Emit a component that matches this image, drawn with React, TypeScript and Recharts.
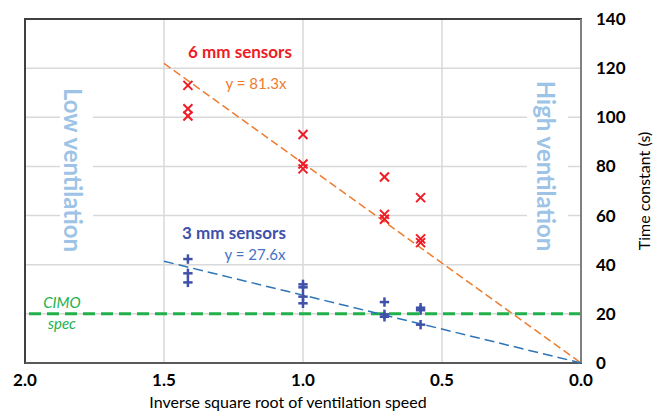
import {
  ComposedChart,
  Scatter,
  XAxis,
  YAxis,
  CartesianGrid,
  ReferenceLine,
  Customized,
} from "recharts";

// 6 mm sensors (red crosses)
const mm6X = [1.414, 1.414, 1.414, 1.0, 1.0, 1.0, 0.707, 0.707, 0.707, 0.577, 0.577, 0.577];
const mm6Y = [113, 103.5, 100.5, 93, 81, 79, 75.7, 60.5, 58.5, 67.3, 50.5, 49];

// 3 mm sensors (blue pluses)
const mm3X = [1.414, 1.414, 1.414, 1.0, 1.0, 1.0, 1.0, 0.707, 0.707, 0.707, 0.577, 0.577, 0.577];
const mm3Y = [42.3, 36.5, 32.8, 32, 30.8, 27, 24.3, 24.8, 19.8, 18.8, 22.5, 21.5, 15.6];

// trend lines through origin
const slope6 = 81.3;
const slope3 = 27.6;
const trendX = [1.5, 0];

const cimoSpec = 20;

const xTicks = [0, 0.5, 1.0, 1.5, 2.0];
const yTicks = [0, 20, 40, 60, 80, 100, 120, 140];

const FONT = "Lato, 'Open Sans', sans-serif";

const mm6Data = mm6X.map((x, i) => ({ x, y: mm6Y[i] }));
const mm3Data = mm3X.map((x, i) => ({ x, y: mm3Y[i] }));
const trend6 = trendX.map((x) => ({ x, y: slope6 * x }));
const trend3 = trendX.map((x) => ({ x, y: slope3 * x }));

const Cross = (props: any) => {
  const { cx, cy } = props;
  const r = 4.5;
  return (
    <g stroke="#EE1C25" strokeWidth={2}>
      <line x1={cx - r} y1={cy - r} x2={cx + r} y2={cy + r} />
      <line x1={cx - r} y1={cy + r} x2={cx + r} y2={cy - r} />
    </g>
  );
};

const Plus = (props: any) => {
  const { cx, cy } = props;
  const r = 4.7;
  return (
    <g stroke="#3F51A8" strokeWidth={2.5}>
      <line x1={cx - r} y1={cy} x2={cx + r} y2={cy} />
      <line x1={cx} y1={cy - r} x2={cx} y2={cy + r} />
    </g>
  );
};

const NoDot = () => <g />;

// white boxes + rotated ventilation notes
const SideNotes = () => (
  <g fontFamily={FONT}>
    <rect x={60} y={76} width={33} height={182} fill="#fff" />
    <rect x={527} y={76} width={41} height={182} fill="#fff" />
    <text
      x={72}
      y={170}
      transform="rotate(90 72 170)"
      textAnchor="middle"
      dy="0.35em"
      fontSize={24}
      fontWeight={700}
      fill="#9DC3E6"
    >
      Low ventilation
    </text>
    <text
      x={545}
      y={166}
      transform="rotate(90 545 166)"
      textAnchor="middle"
      dy="0.35em"
      fontSize={24}
      fontWeight={700}
      fill="#9DC3E6"
    >
      High ventilation
    </text>
  </g>
);

// plot frame + free text
const Labels = () => (
  <g fontFamily={FONT}>
    <rect x={25} y={19} width={556} height={344} fill="none" stroke="#404040" strokeWidth={2} />
    <text x={240} y={52} dy="0.35em" textAnchor="middle" fontSize={17} fontWeight={700} fill="#EE1C25">
      6 mm sensors
    </text>
    <text x={256} y={84} dy="0.35em" textAnchor="middle" fontSize={15} fill="#ED7D31">
      y = 81.3x
    </text>
    <text x={234} y={233} dy="0.35em" textAnchor="middle" fontSize={17} fontWeight={700} fill="#3F51A8">
      3 mm sensors
    </text>
    <text x={255} y={255} dy="0.35em" textAnchor="middle" fontSize={15} fill="#4472C4">
      y = 27.6x
    </text>
    <text x={62} y={303} dy="0.35em" textAnchor="middle" fontSize={15} fontStyle="italic" fill="#21B14B">
      CIMO
    </text>
    <text x={62} y={324} dy="0.35em" textAnchor="middle" fontSize={15} fontStyle="italic" fill="#21B14B">
      spec
    </text>
    <text x={288} y={402} dy="0.35em" textAnchor="middle" fontSize={16} fill="#000">
      Inverse square root of ventilation speed
    </text>
    <text
      x={644}
      y={191}
      transform="rotate(-90 644 191)"
      dy="0.35em"
      textAnchor="middle"
      fontSize={16}
      fill="#000"
    >
      Time constant (s)
    </text>
  </g>
);

export default function App() {
  const tickStyle = { fontFamily: FONT, fontSize: 17, fontWeight: 700, fill: "#000" };
  return (
    <div style={{ position: "absolute", left: 0, top: 0, background: "#fff" }}>
      <ComposedChart
        width={664}
        height={418}
        margin={{ top: 19, right: 13, bottom: 0, left: 25 }}
      >
        <CartesianGrid stroke="#D9D9D9" strokeWidth={1.5} />
        <Customized component={<SideNotes />} />
        <XAxis
          dataKey="x"
          type="number"
          domain={[0, 2]}
          reversed
          ticks={xTicks}
          tickFormatter={(v: number) => v.toFixed(1)}
          tick={tickStyle}
          tickLine={false}
          tickSize={0}
          tickMargin={11}
          height={55}
          axisLine={{ stroke: "#595959", strokeWidth: 2 }}
        />
        <YAxis
          dataKey="y"
          orientation="right"
          type="number"
          domain={[0, 140]}
          ticks={yTicks}
          tick={{ ...tickStyle, textAnchor: "start" }}
          tickLine={false}
          tickSize={0}
          tickMargin={15}
          width={70}
          axisLine={{ stroke: "#808080", strokeWidth: 2 }}
        />
        <ReferenceLine
          y={cimoSpec}
          stroke="#21B14B"
          strokeWidth={3}
          strokeDasharray="12 6"
        />
        <Scatter
          data={trend6}
          line={{ stroke: "#ED7D31", strokeWidth: 1.5, strokeDasharray: "8 4" }}
          shape={NoDot}
          isAnimationActive={false}
        />
        <Scatter
          data={trend3}
          line={{ stroke: "#2E75B6", strokeWidth: 1.5, strokeDasharray: "10 5" }}
          shape={NoDot}
          isAnimationActive={false}
        />
        <Scatter data={mm6Data} shape={Cross} isAnimationActive={false} />
        <Scatter data={mm3Data} shape={Plus} isAnimationActive={false} />
        <Customized component={<Labels />} />
      </ComposedChart>
    </div>
  );
}
